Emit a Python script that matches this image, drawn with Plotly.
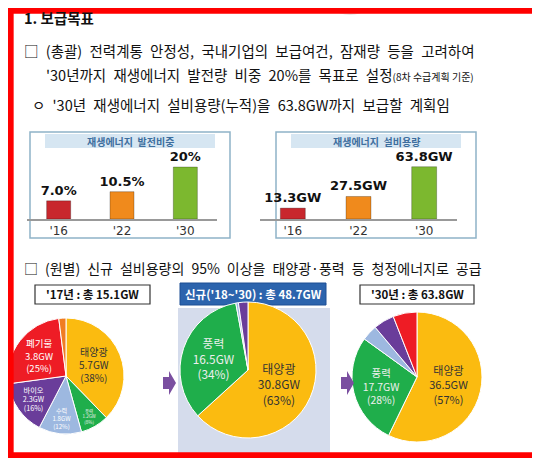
import plotly.graph_objects as go

# the page puts the figure 8px in from the top-left corner
OFF = 8
W, H = 540 - OFF, 458 - OFF

# bar data
bar_years = ["'16", "'22", "'30"]
share_pct = [7.0, 10.5, 20.0]
share_lbl = ["7.0%", "10.5%", "20%"]
capacity_gw = [13.3, 27.5, 63.8]
bar_colors = ["#c8272d", "#f08a1c", "#7cb82f"]

# pie data
src_17 = ["태양광", "풍력", "수력", "바이오", "폐기물", "기타"]
gw_17 = [5.7, 1.2, 1.8, 2.3, 3.8, 0.3]
pct_17 = ["38%", "8%", "12%", "16%", "25%", ""]

src_new = ["태양광", "풍력", "수력", "바이오"]
gw_new = [30.8, 16.5, 0.3, 1.1]
pct_new = ["63%", "34%", "", ""]

src_30 = ["태양광", "풍력", "수력", "바이오", "폐기물"]
gw_30 = [36.5, 17.7, 2.5, 3.3, 3.8]
pct_30 = ["57%", "28%", "", "", ""]

pie_colors = {"태양광": "#fbbb10", "풍력": "#1fae4b", "수력": "#9db8e0",
              "바이오": "#6a3d9a", "폐기물": "#ee1c25", "기타": "#f07c22"}

FONT = "Noto Sans CJK KR"
SP = "\u2002"


def X(x):
    return min(max((x - OFF) / W, 0), 1)


def Y(y):
    return min(max(1 - (y - OFF) / H, 0), 1)


def xd(a, b):
    return [X(a), X(b)]


def yd(top, bottom):
    return [Y(bottom), Y(top)]


fig = go.Figure()

bar_font = dict(family="Verdana, DejaVu Sans", size=13, color="#111")
fig.add_trace(go.Bar(x=bar_years, y=share_pct, marker_color=bar_colors, width=0.38,
                     marker_line=dict(color="rgba(0,0,0,0.25)", width=1),
                     text=[f"<b>{t}</b>" for t in share_lbl], textposition="outside",
                     cliponaxis=False, constraintext="none", textfont=bar_font,
                     xaxis="x", yaxis="y", showlegend=False))
fig.add_trace(go.Bar(x=bar_years, y=capacity_gw, marker_color=bar_colors, width=0.38,
                     marker_line=dict(color="rgba(0,0,0,0.25)", width=1),
                     text=[f"<b>{v}GW</b>" for v in capacity_gw], textposition="outside",
                     cliponaxis=False, constraintext="none", textfont=bar_font,
                     xaxis="x2", yaxis="y2", showlegend=False))


def pie(labels, vals, pcts, domx, domy, size, colors):
    txt = []
    for l, v, p in zip(labels, vals, pcts):
        txt.append(f"{l}<br>{v}GW<br>({p})" if p else "")
    return go.Pie(labels=labels, values=vals, text=txt, textinfo="text",
                  sort=False, direction="clockwise", rotation=0,
                  marker=dict(colors=[pie_colors[l] for l in labels],
                              line=dict(color="white", width=1)),
                  textposition="inside", insidetextorientation="horizontal",
                  textfont=dict(family=FONT, size=size, color=colors),
                  domain=dict(x=domx, y=domy), showlegend=False, hoverinfo="label+value")


fig.add_trace(pie(src_17, gw_17, pct_17, xd(8, 124), yd(318, 434), 10,
                  ["#333", "#eee", "#fff", "#fff", "#fff", "#fff"]))
fig.add_trace(pie(src_new, gw_new, pct_new, xd(180, 316), yd(302, 438), 12,
                  ["#333", "#eee", "#fff", "#fff"]))
fig.add_trace(pie(src_30, gw_30, pct_30, xd(352, 482), yd(312, 442), 11,
                  ["#333", "#eee", "#fff", "#fff", "#fff"]))


def rect(x0, y0, x1, y1, **kw):
    d = dict(type="rect", xref="paper", yref="paper", x0=X(x0), x1=X(x1), y0=Y(y1), y1=Y(y0))
    d.update(kw)
    return d


def arrow(x0, yc):
    pts = [(x0, yc - 6), (x0 + 6, yc - 6), (x0 + 6, yc - 12), (x0 + 13, yc),
           (x0 + 6, yc + 12), (x0 + 6, yc + 6), (x0, yc + 6)]
    path = "M " + " L ".join(f"{X(a)},{Y(b)}" for a, b in pts) + " Z"
    return dict(type="path", xref="paper", yref="paper", path=path, line_width=0,
                fillcolor="#7a4fa0", layer="above")


shapes = [
    dict(type="circle", xref="paper", yref="paper", x0=X(300), x1=X(400), y0=Y(15), y1=1.3,
         fillcolor="#e6e6e6", line_width=0, layer="below"),
    rect(30, 132, 230, 238, line=dict(color="#8fb3c8", width=1.5), fillcolor="white", layer="below"),
    rect(276, 132, 476, 238, line=dict(color="#8fb3c8", width=1.5), fillcolor="white", layer="below"),
    rect(45, 134, 215, 148, line_width=0, fillcolor="#d6e6f2", layer="below"),
    rect(291, 134, 461, 148, line_width=0, fillcolor="#d6e6f2", layer="below"),
    rect(178, 308, 330, 460, line_width=0, fillcolor="#d5dcec", layer="below"),
    rect(35, 285, 150, 304, line=dict(color="#333", width=1.2), fillcolor="white", layer="below"),
    rect(180, 283, 326, 305, line=dict(color="#1d4f94", width=1), fillcolor="#2c64ad", layer="below"),
    rect(360, 285, 474, 304, line=dict(color="#333", width=1.2), fillcolor="white", layer="below"),
    arrow(163, 383),
    arrow(341, 383),
    dict(type="rect", xref="paper", yref="paper", x0=0.005, x1=0.995, y0=0.006, y1=0.994,
         line=dict(color="#ff0000", width=6), fillcolor="rgba(0,0,0,0)"),
]


def ann(x, y, text, size=12, color="#111", xanchor="left", bold=False, family=FONT):
    return dict(xref="paper", yref="paper", x=X(x), y=Y(y), text=f"<b>{text}</b>" if bold else text,
                showarrow=False, xanchor=xanchor, yanchor="middle",
                font=dict(family=family, size=size, color=color))


def spaced(s):
    return s.replace(" ", SP)


annotations = [
    ann(22, 17, "1. 보급목표", 14.5, bold=True),
    ann(22, 50, spaced("□ (총괄) 전력계통 안정성, 국내기업의 보급여건, 잠재량 등을 고려하여"), 14.5),
    ann(44, 74, spaced("'30년까지 재생에너지 발전량 비중 20%를 목표로 설정")
        + "<span style='font-size:10px'>(8차 수급계획 기준)</span>", 14.5),
    ann(30, 105, spaced("ㅇ '30년 재생에너지 설비용량(누적)을 63.8GW까지 보급할 계획임"), 14.5),
    ann(130, 141, "재생에너지  발전비중", 10, "#3d6e9e", "center", True),
    ann(376, 141, "재생에너지  설비용량", 10, "#3d6e9e", "center", True),
    ann(22, 268, spaced("□ (원별) 신규 설비용량의 95% 이상을 태양광·풍력 등 청정에너지로 공급"), 14),
    ann(92, 294, "'17년 : 총 15.1GW", 11.5, bold=True, xanchor="center"),
    ann(253, 294, "신규('18~'30) : 총 48.7GW", 11.5, "white", "center", True),
    ann(417, 294, "'30년 : 총 63.8GW", 11.5, bold=True, xanchor="center"),
]

axis_x = dict(showgrid=False, zeroline=False, showline=True, linecolor="#999", linewidth=2,
              ticks="", tickfont=dict(family="Verdana, DejaVu Sans", size=12, color="#333"),
              fixedrange=True)
axis_y = dict(visible=False, fixedrange=True)

fig.update_layout(
    width=W, height=H, margin=dict(l=0, r=0, t=0, b=0),
    paper_bgcolor="white", plot_bgcolor="rgba(0,0,0,0)",
    xaxis=dict(domain=xd(27, 217), anchor="y", **axis_x),
    yaxis=dict(domain=yd(160, 219), range=[0, 22.7], **axis_y),
    xaxis2=dict(domain=xd(260, 457), anchor="y2", **axis_x),
    yaxis2=dict(domain=yd(160, 219), range=[0, 72], **axis_y),
    shapes=shapes, annotations=annotations,
)

fig.write_html("out.html")
